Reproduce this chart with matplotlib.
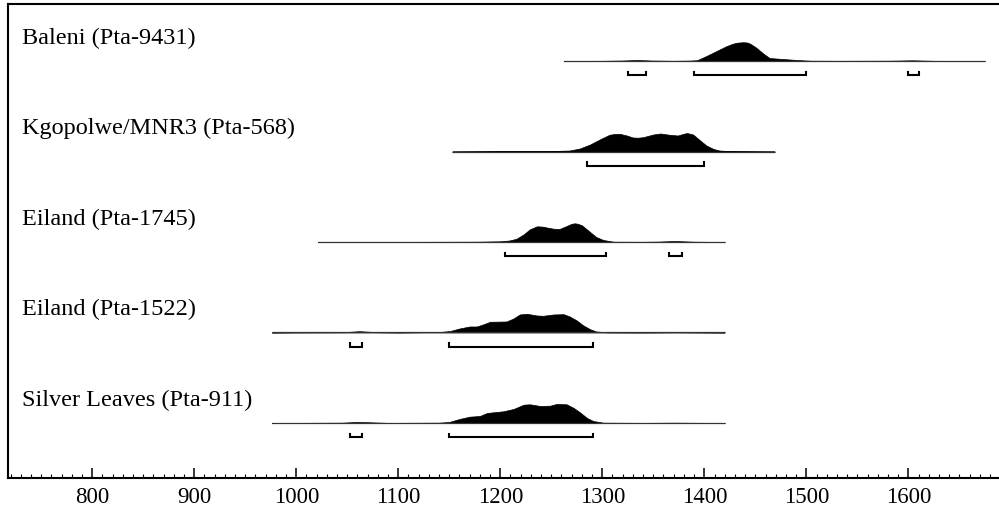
import matplotlib
matplotlib.use("Agg")

import matplotlib.pyplot as plt
from matplotlib.ticker import MultipleLocator
import numpy as np

# sample labels, top to bottom
labels = ["Baleni (Pta-9431)", "Kgopolwe/MNR3 (Pta-568)", "Eiland (Pta-1745)",
          "Eiland (Pta-1522)", "Silver Leaves (Pta-911)"]

# calibrated probability curves (cal AD, relative height, peak ~19)
baleni_yr = [1262, 1300, 1320, 1334, 1348, 1370, 1385, 1393, 1402, 1412, 1422, 1428, 1432, 1438,
             1442, 1445, 1451, 1458, 1464, 1477, 1491, 1504, 1530, 1580, 1604, 1625, 1675]
baleni_p = [0, 0.2, 0.5, 1.0, 0.5, 0.2, 0.4, 0.8, 5, 10, 15, 17.3, 18.3, 18.8,
            18.5, 17.3, 13.3, 7.3, 3, 2, 1, 0.3, 0.2, 0.3, 0.7, 0.2, 0]

kgop_yr = [1153, 1200, 1245, 1268, 1278, 1288, 1298, 1307, 1312, 1317, 1324, 1330, 1335, 1340,
           1350, 1357, 1366, 1374, 1379, 1383, 1389, 1396, 1402, 1409, 1415, 1425, 1469]
kgop_p = [0, 0.3, 0.3, 1, 3, 7, 12.3, 16.7, 17.5, 17.7, 16, 14, 13.8, 14.3,
          17, 18, 16.7, 16, 17.5, 18.5, 17, 11, 6, 2.5, 1, 0.3, 0]

e1745_yr = [1021, 1100, 1177, 1200, 1209, 1216, 1223, 1229, 1236, 1242, 1247, 1252, 1258, 1265,
            1270, 1273, 1276, 1280, 1288, 1294, 1301, 1311, 1340, 1355, 1371, 1390, 1420]
e1745_p = [0, 0.1, 0.3, 0.7, 1.5, 3.3, 7.7, 12.7, 15.7, 15.3, 14.2, 13.3, 13, 16,
           18.2, 18.7, 18.2, 16.7, 10, 5, 2, 0.3, 0.2, 0.4, 1.0, 0.3, 0]

e1522_yr = [976, 1000, 1046, 1062, 1079, 1100, 1141, 1151, 1160, 1170, 1177, 1183, 1190, 1206,
            1213, 1219, 1226, 1236, 1242, 1252, 1262, 1268, 1275, 1281, 1288, 1294, 1304,
            1340, 1373, 1420]
e1522_p = [0, 0.2, 0.3, 1.3, 0.3, 0.1, 0.5, 1.5, 4, 6, 6, 8, 10.7, 11,
           14, 18, 18.7, 17, 16.7, 18, 18.3, 16, 12, 7.3, 3.3, 1, 0.2,
           0.1, 0.3, 0]

silver_yr = [976, 1000, 1045, 1059, 1072, 1090, 1140, 1150, 1160, 1170, 1180, 1187, 1203,
             1213, 1223, 1229, 1239, 1249, 1255, 1265, 1272, 1278, 1285, 1291, 1301,
             1340, 1370, 1420]
silver_p = [0, 0.1, 0.3, 1.0, 0.7, 0.1, 0.3, 1, 4, 6.3, 7, 10, 11.7,
            14, 18.3, 18.7, 17, 17.3, 19, 18.7, 15, 10.7, 5, 2, 0.3,
            0.1, 0.3, 0]

curves_yr = [baleni_yr, kgop_yr, e1745_yr, e1522_yr, silver_yr]
curves_p = [baleni_p, kgop_p, e1745_p, e1522_p, silver_p]

# 95.4% ranges
ranges = [[(1325, 1343), (1390, 1500), (1600, 1610)],
          [(1285, 1400)],
          [(1205, 1304), (1365, 1378)],
          [(1053, 1064), (1150, 1291)],
          [(1053, 1064), (1150, 1291)]]

plt.rcParams["font.family"] = ["Liberation Serif", "DejaVu Serif"]

fig = plt.figure(figsize=(9.99, 5.10), dpi=100)
ax = fig.add_axes([8 / 999, 1 - 479 / 510, 991 / 999, 474 / 510])

scale = 0.21 / 19.0
n = len(labels)
for i in range(n):
    y0 = n - 1 - i
    yr = np.array(curves_yr[i], dtype=float)
    p = np.array(curves_p[i], dtype=float) * scale
    ax.plot([yr[0], yr[-1]], [y0, y0], color="#333333", lw=0.9, solid_capstyle="butt")
    ax.fill_between(yr, y0, y0 + p, color="black", lw=0.5)
    for a, b in ranges[i]:
        yb = y0 - 0.155
        ax.plot([a, a, b, b], [yb + 0.035, yb, yb, yb + 0.035], color="black", lw=1.5,
                solid_joinstyle="miter")
    ax.text(14 / 991, y0 + 0.265, labels[i], transform=ax.get_yaxis_transform(),
            fontsize=17.5, va="center", ha="left")

ax.set_xlim(717.4, 1688.9)
ax.set_ylim(-0.608, 4.63)

ax.xaxis.set_major_locator(MultipleLocator(100))
ax.xaxis.set_minor_locator(MultipleLocator(10))
ax.tick_params(axis="x", which="major", direction="in", length=7, width=1.1,
               labelsize=16.5, pad=6)
ax.tick_params(axis="x", which="minor", direction="in", length=3, width=0.8)
ax.set_yticks([])
ax.spines["right"].set_visible(False)
for s in ["top", "left", "bottom"]:
    ax.spines[s].set_linewidth(1.5)

plt.savefig("out.png", dpi=100)
